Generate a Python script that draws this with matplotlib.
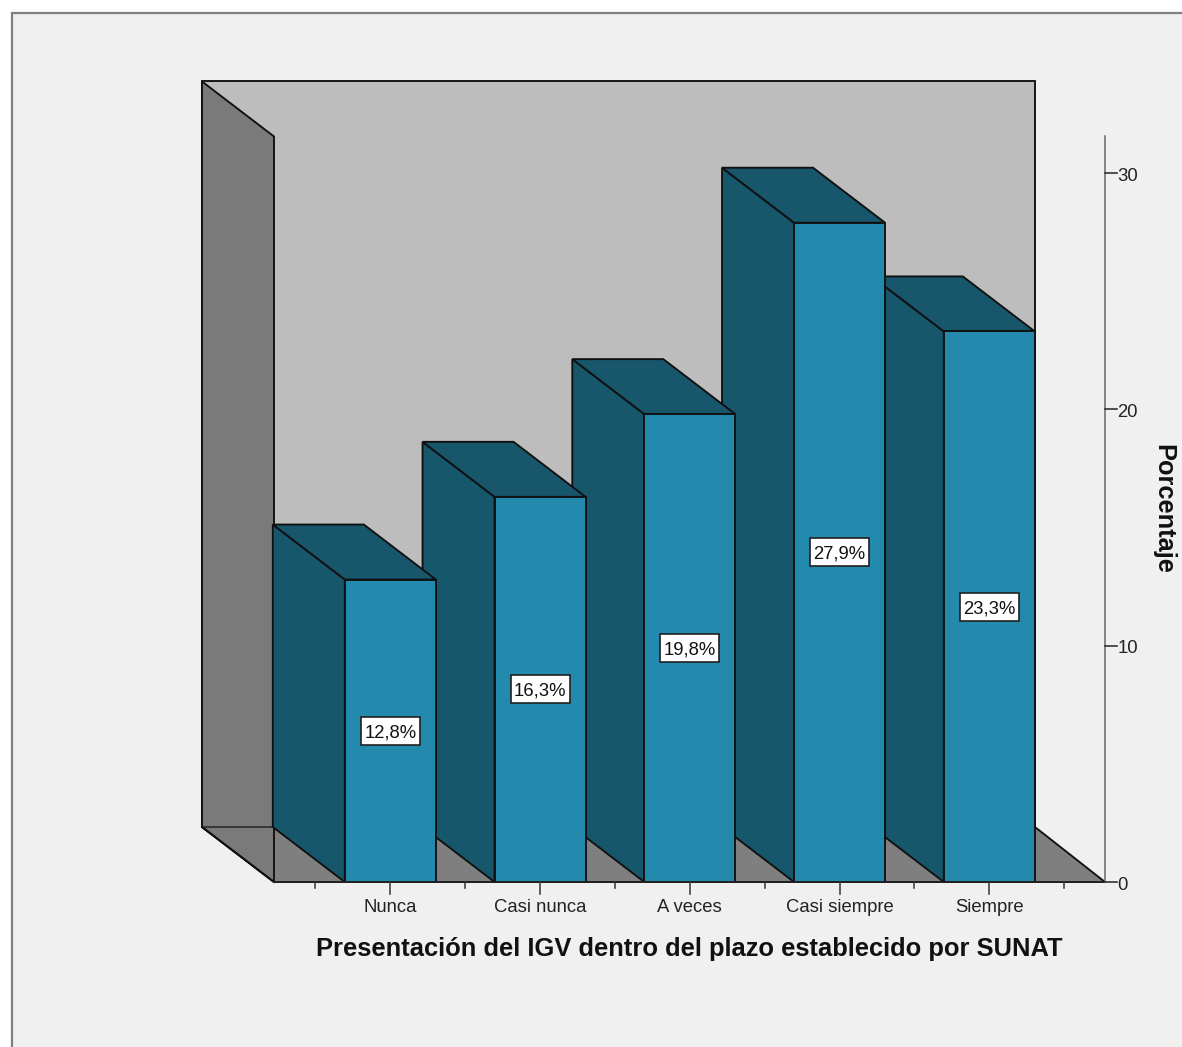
import matplotlib
matplotlib.use("Agg")
import matplotlib.pyplot as plt
from matplotlib.patches import Polygon, Rectangle

plt.rcParams["font.family"] = ["Liberation Sans", "DejaVu Sans"]

# Survey results
categories = ["Nunca", "Casi nunca", "A veces", "Casi siempre", "Siempre"]
percentages = [12.8, 16.3, 19.8, 27.9, 23.3]
y_ticks = [0, 10, 20, 30]
x_title = "Presentación del IGV dentro del plazo establecido por SUNAT"
y_title = "Porcentaje"

W, H = 1182, 1047
PX_X = 149.75            # pixels per category step
PX_Y = 23.63             # pixels per percentage point
X0, Y0 = 390.3, 882.0    # pixel position of first category at 0 %
BAR_W = 91 / PX_X
DX = 72 / PX_X           # oblique depth offset, in axis units
DY = 55 / PX_Y
Y_TOP = 31.55
X_LEFT = (274 - X0) / PX_X
X_RIGHT = (1105 - X0) / PX_X
X_BACK_RIGHT = (1035 - X0) / PX_X

FRONT = "#2389ad"
SIDE = "#17576b"
TOP = "#17566b"
LW = 1.35
TICK_FONT = 13.3

fig = plt.figure(figsize=(W / 100, H / 100), dpi=100, facecolor="white")
ax = fig.add_axes([0, 0, 1, 1])
ax.set_xlim((0 - X0) / PX_X, (W - X0) / PX_X)
ax.set_ylim((Y0 - H) / PX_Y, Y0 / PX_Y)
ax.axis("off")

# Chart panel with a grey border on the top and left edges
px = lambda p: (p - X0) / PX_X
py = lambda p: (Y0 - p) / PX_Y
ax.add_patch(Rectangle((px(12), py(H + 5)), px(W + 5) - px(12), py(13) - py(H + 5),
                       fc="#f0f0f0", ec="#808080", lw=1.6, zorder=0))


def poly(points, fc, z):
    ax.add_patch(Polygon(points, closed=True, fc=fc, ec="#101010", lw=LW,
                         joinstyle="miter", zorder=z))


# Back wall, left wall and floor
poly([(X_LEFT - DX, DY), (X_BACK_RIGHT, DY), (X_BACK_RIGHT, Y_TOP + DY), (X_LEFT - DX, Y_TOP + DY)], "#bdbdbd", 1)
poly([(X_LEFT, 0), (X_RIGHT, 0), (X_BACK_RIGHT, DY), (X_LEFT - DX, DY)], "#7f7f7f", 2)
poly([(X_LEFT - DX, DY), (X_LEFT, 0), (X_LEFT, Y_TOP), (X_LEFT - DX, Y_TOP + DY)], "#7a7a7a", 2)
ax.plot([X_LEFT - DX, X_LEFT], [DY, DY], color="#333333", lw=LW, zorder=2.5)
ax.plot([X_LEFT - DX, X_LEFT], [DY, 0], color="#101010", lw=LW, zorder=2.5)

# Bars go right to left, so each front face hides its right neighbour's side
LABEL_W = 59 / PX_X
LABEL_H = 28 / PX_Y
for i in reversed(range(len(categories))):
    v = percentages[i]
    l, r = i - BAR_W / 2, i + BAR_W / 2
    z = 3 + (len(categories) - i)
    poly([(l - DX, DY), (l, 0), (l, v), (l - DX, v + DY)], SIDE, z)
    poly([(l - DX, v + DY), (r - DX, v + DY), (r, v), (l, v)], TOP, z)
    poly([(l, 0), (r, 0), (r, v), (l, v)], FRONT, z)
    ax.add_patch(Rectangle((i - LABEL_W / 2, v / 2 - LABEL_H / 2), LABEL_W, LABEL_H,
                           fc="white", ec="#202020", lw=1.2, zorder=19))
    ax.text(i, v / 2 - 6.5 / PX_Y, f"{v:.1f}%".replace(".", ","), ha="center", va="baseline",
            fontsize=TICK_FONT, color="#111111", zorder=20)

# Category axis
ax.plot([X_LEFT, X_RIGHT], [0, 0], color="#222222", lw=LW, zorder=15)
tick_long = 12 / PX_Y
tick_short = 6 / PX_Y
for i, name in enumerate(categories):
    ax.plot([i, i], [0, -tick_long], color="#333333", lw=1.1, zorder=15)
    ax.text(i, py(912), name, ha="center", va="baseline", fontsize=TICK_FONT, color="#222222")
for i in range(-1, len(categories)):
    ax.plot([i + 0.5] * 2, [0, -tick_short], color="#333333", lw=1.1, zorder=15)
ax.text(px(689), py(956), x_title, ha="center", va="baseline", fontsize=18.4,
        fontweight="bold", color="#111111")

# Percentage axis on the right
ax.plot([X_RIGHT, X_RIGHT], [0, Y_TOP], color="#666666", lw=1.1, zorder=15)
for t in y_ticks:
    ax.plot([X_RIGHT, X_RIGHT + 12 / PX_X], [t, t], color="#333333", lw=1.2, zorder=15)
    ax.text(X_RIGHT + 12.5 / PX_X, t - 7.5 / PX_Y, str(t), ha="left", va="baseline",
            fontsize=TICK_FONT, color="#222222")
ax.text(px(1163.5), py(508.5), y_title, rotation=-90, ha="center", va="center",
        fontsize=18.3, fontweight="bold", color="#111111")

fig.savefig("out.png", dpi=100, facecolor=fig.get_facecolor())
